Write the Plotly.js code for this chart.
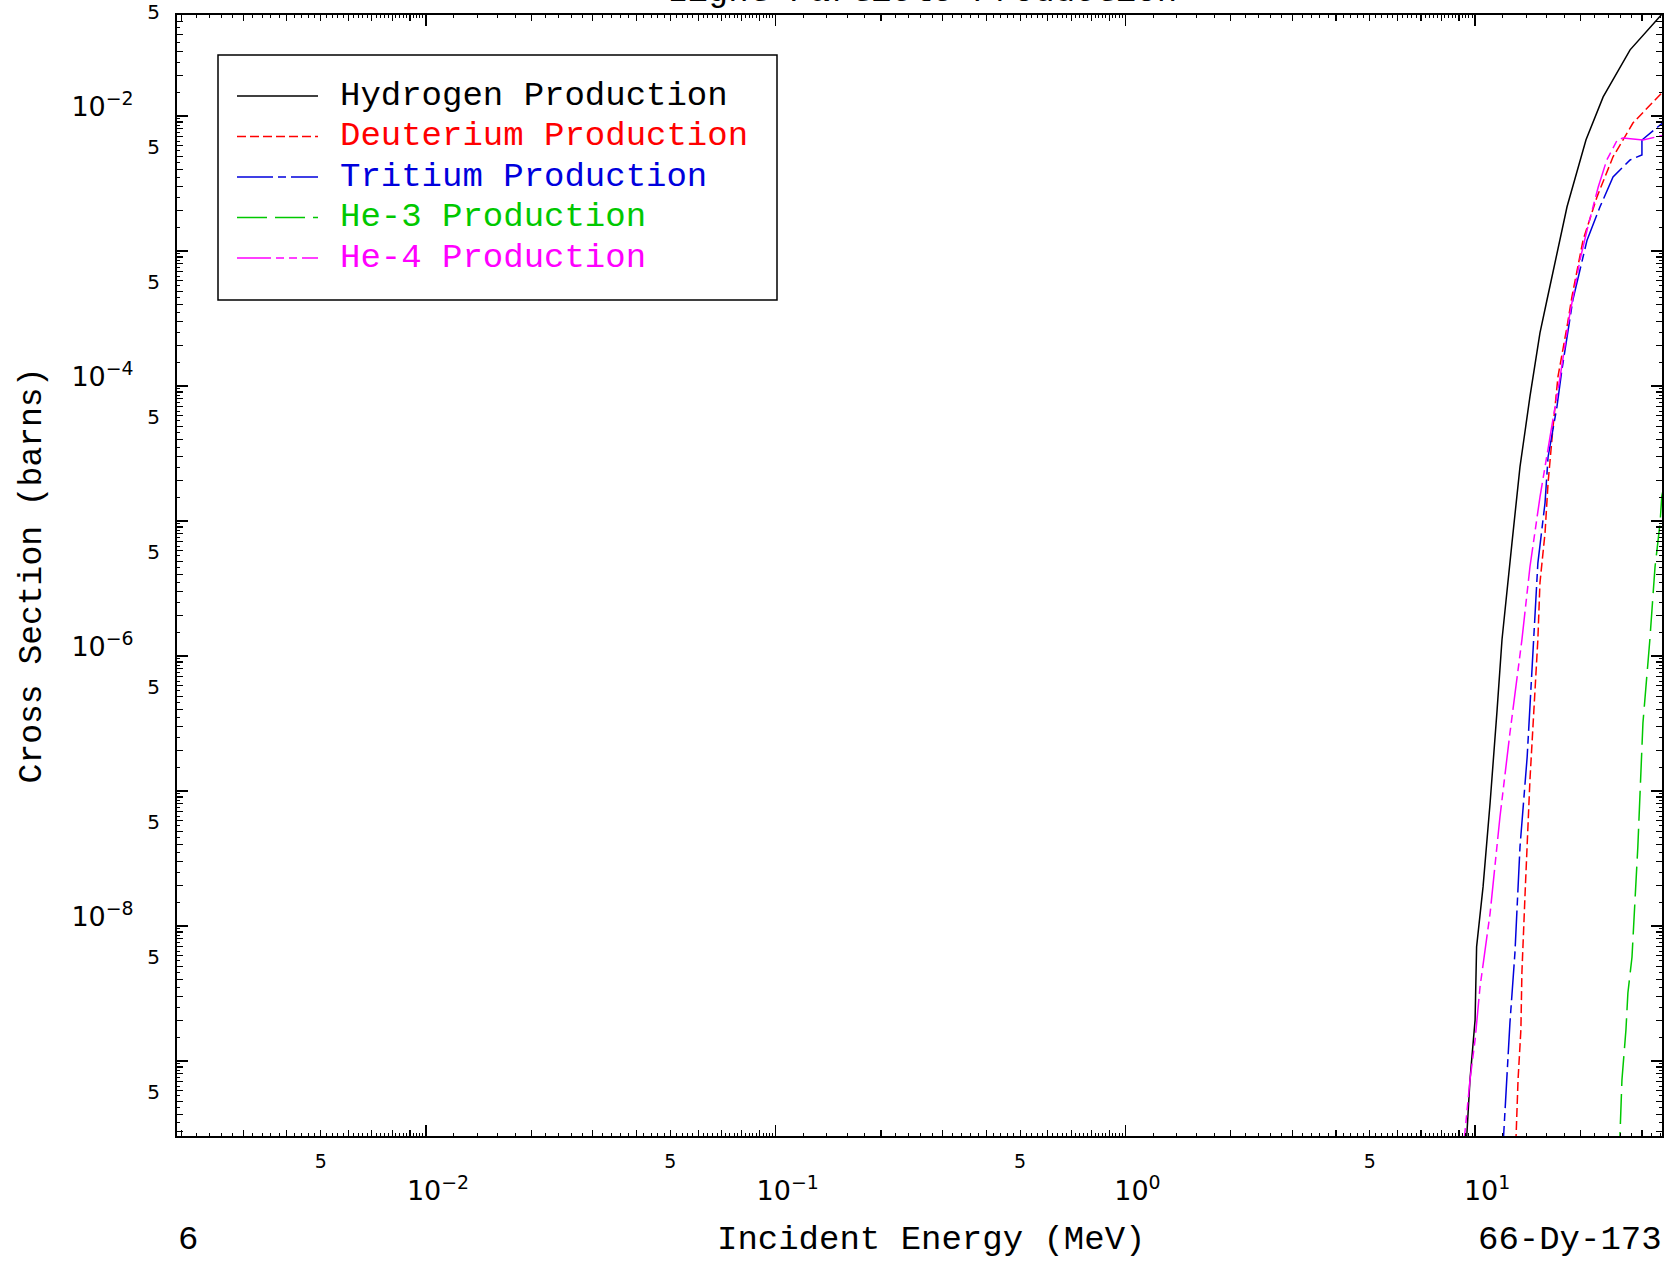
<!DOCTYPE html>
<html>
<head>
<meta charset="utf-8">
<script src="https://cdn.plot.ly/plotly-3.0.1.min.js"></script>
<style>html,body{margin:0;padding:0;background:#ffffff;overflow:hidden}</style>
</head>
<body>
<div id="chart" style="width:1673px;height:1261px"></div>
<script>
// ---------------- data (energy in MeV, cross section in barns) ----------------
const seriesNames = ["Hydrogen Production", "Deuterium Production", "Tritium Production", "He-3 Production", "He-4 Production"];

const hydrogenE  = [9.35, 9.67, 10.0, 10.1, 10.54, 11.04, 11.56, 11.94, 12.75, 13.44, 14.35, 15.33, 16.06, 17.26, 18.32, 20.76, 23.24, 27.75, 34.0, 35.0];
const hydrogenXS = [1.58e-10, 7.23e-10, 2.01e-9, 6.98e-9, 1.95e-8, 8.15e-8, 3.98e-7, 1.32e-6, 6.87e-6, 2.51e-5, 8.30e-5, 2.47e-4, 4.34e-4, 1.02e-3, 2.12e-3, 6.64e-3, 1.38e-2, 3.08e-2, 5.55e-2, 6.3e-2];

const deuteriumE  = [13.0, 13.27, 13.52, 13.61, 13.90, 14.35, 15.12, 15.33, 15.85, 16.17, 16.71, 17.26, 18.32, 18.92, 20.36, 22.32, 24.8, 28.3, 34.2, 35.0];
const deuteriumXS = [1.58e-10, 7.23e-10, 1.70e-9, 4.49e-9, 1.75e-8, 1.20e-7, 1.32e-6, 3.48e-6, 8.15e-6, 1.91e-5, 4.97e-5, 1.17e-4, 2.74e-4, 4.56e-4, 1.20e-3, 2.51e-3, 4.97e-3, 8.87e-3, 1.48e-2, 1.56e-2];

const tritiumE  = [11.95, 12.34, 12.58, 13.0, 13.44, 14.09, 14.66, 15.12, 15.85, 16.17, 17.14, 17.71, 19.04, 20.9, 22.75, 24.8, 27.75, 30.0, 30.0, 34.2, 35.0];
const tritiumXS = [1.78e-10, 7.21e-10, 1.91e-9, 6.30e-9, 3.84e-8, 1.78e-7, 1.31e-6, 4.86e-6, 1.36e-5, 2.97e-5, 6.97e-5, 1.31e-4, 4.33e-4, 1.20e-3, 2.11e-3, 3.52e-3, 4.71e-3, 5.13e-3, 6.62e-3, 8.85e-3, 9.2e-3];

const he3E  = [25.8, 26.3, 27.0, 27.35, 28.1, 29.2, 30.2, 31.6, 32.7, 33.8, 34.2, 35.0];
const he3XS = [1.78e-10, 7.21e-10, 1.69e-9, 3.18e-9, 5.87e-9, 3.84e-8, 3.18e-7, 1.31e-6, 4.55e-6, 9.64e-6, 1.53e-5, 2.0e-5];

const he4E  = [9.18, 9.67, 10.0, 10.33, 11.04, 11.78, 12.58, 13.61, 14.35, 15.33, 16.38, 17.5, 18.6, 19.95, 21.0, 22.5, 23.8, 25.5, 26.5, 30.2, 33.8, 35.0];
const he4XS = [1.78e-10, 7.21e-10, 1.43e-9, 3.52e-9, 1.24e-8, 6.40e-8, 2.68e-7, 1.31e-6, 4.55e-6, 1.50e-5, 4.18e-5, 1.16e-4, 3.24e-4, 8.55e-4, 1.50e-3, 2.97e-3, 4.71e-3, 6.62e-3, 6.86e-3, 6.62e-3, 7.08e-3, 7.15e-3];

const xDecadeLabels = ["10<sup>\u22122</sup>", "10<sup>\u22121</sup>", "10<sup>0</sup>", "10<sup>1</sup>"];
const xDecadeValues = [1e-2, 1e-1, 1e0, 1e1];
const yDecadeValues = [1e-2, 1e-3, 1e-4, 1e-5, 1e-6, 1e-7, 1e-8, 1e-9];
const yDecadeLabels = ["10<sup>\u22122</sup>", "", "10<sup>\u22124</sup>", "", "10<sup>\u22126</sup>", "", "10<sup>\u22128</sup>", ""];

const titleText = "Light Particle Production";
const xTitle = "Incident Energy (MeV)";
const yTitle = "Cross Section (barns)";
const footLeft = "6";
const footRight = "66-Dy-173";

// ---------------- styles ----------------
const colors = ["#000000", "#ff0000", "#0000dd", "#00c800", "#ff00ff"];
const dashes = ["solid", "9px,4px", "36px,5px,8px,5px", "30px,8px", "34px,5px,8px,5px,8px,5px"];
const monoFont = "Liberation Mono, Courier New, monospace";
const tickFont = "DejaVu Sans, Arial, sans-serif";

// ---------------- tick helpers ----------------
function mantissaTicks(d0, d1, step, from, to) {
  const out = [];
  for (let d = d0; d <= d1; d++) {
    const n = Math.round((to - from) / step);
    for (let i = 0; i <= n; i++) {
      const m = from + i * step;
      out.push(parseFloat((m * Math.pow(10, d)).toPrecision(6)));
    }
  }
  return out;
}
const xFine = mantissaTicks(-3, 1, 0.2, 1.2, 9.8);
const xInt  = mantissaTicks(-3, 1, 1, 2, 9);
const yHalf = mantissaTicks(-10, -2, 0.5, 1.5, 9.5);
const yInt  = mantissaTicks(-10, -2, 1, 2, 9);
const intText = v => (Math.abs(v / Math.pow(10, Math.floor(Math.log10(v) + 1e-9)) - 5) < 1e-6 ? "5" : "");

// ---------------- geometry ----------------
const W = 1673, H = 1261;
const L = 177, R = 1662, T = 15, B = 1136;
const PX = p => (p - L) / (R - L);
const PY = p => 1 - (p - T) / (B - T);
const xRange = [-2.712, 1.5345];
const yRange = [-9.557, -1.2533];

const dataE = [hydrogenE, deuteriumE, tritiumE, he3E, he4E];
const dataXS = [hydrogenXS, deuteriumXS, tritiumXS, he3XS, he4XS];

const traces = seriesNames.map((name, i) => ({
  type: "scatter", mode: "lines", name: name,
  x: dataE[i], y: dataXS[i],
  line: {color: colors[i], width: 1.5, dash: dashes[i]},
  showlegend: false, hoverinfo: "skip"
}));
traces.push({type: "scatter", mode: "lines", x: [], y: [], xaxis: "x2", yaxis: "y2", showlegend: false, hoverinfo: "skip"});

// ---------------- legend (drawn manually) ----------------
const legRows = [96, 136.5, 177, 217.5, 258];
const shapes = [{
  type: "rect", xref: "paper", yref: "paper",
  x0: PX(218), x1: PX(777), y0: PY(300), y1: PY(55),
  line: {color: "#000", width: 1.5}, fillcolor: "#ffffff", layer: "above"
}];
const annotations = [];
seriesNames.forEach((name, i) => {
  shapes.push({type: "line", xref: "paper", yref: "paper",
    x0: PX(237), x1: PX(318), y0: PY(legRows[i]), y1: PY(legRows[i]),
    line: {color: colors[i], width: 1.5, dash: dashes[i]}, layer: "above"});
  annotations.push({xref: "paper", yref: "paper", x: PX(338), y: PY(legRows[i]),
    xanchor: "left", yanchor: "middle", text: name, showarrow: false,
    font: {family: monoFont, size: 34, color: colors[i]}});
});
annotations.push({xref: "paper", yref: "paper", x: 0.502, y: PY(-7.9), xanchor: "center", yanchor: "middle",
  text: titleText, showarrow: false, font: {family: monoFont, size: 34, color: "#000"}});
annotations.push({xref: "paper", yref: "paper", x: PX(931), y: PY(1240), xanchor: "center", yanchor: "middle",
  text: xTitle, showarrow: false, font: {family: monoFont, size: 34, color: "#000"}});
annotations.push({xref: "paper", yref: "paper", x: PX(176), y: PY(1240), xanchor: "left", yanchor: "middle",
  text: footLeft, showarrow: false, font: {family: monoFont, size: 34, color: "#000"}});
annotations.push({xref: "paper", yref: "paper", x: PX(1664), y: PY(1240), xanchor: "right", yanchor: "middle",
  text: footRight, showarrow: false, font: {family: monoFont, size: 34, color: "#000"}});

const baseAxis = {
  type: "log", showgrid: false, zeroline: false, ticks: "inside", tickcolor: "#000",
  fixedrange: true
};

const layout = {
  width: W, height: H,
  margin: {l: L, r: W - R, t: T, b: H - B, pad: 0},
  paper_bgcolor: "#ffffff", plot_bgcolor: "#ffffff",
  showlegend: false,
  xaxis: Object.assign({}, baseAxis, {
    range: xRange, showline: true, linecolor: "#000", linewidth: 2, mirror: "allticks",
    tickmode: "array", tickvals: xDecadeValues, ticktext: xDecadeLabels,
    ticklen: 11, tickwidth: 1.5,
    tickfont: {family: tickFont, size: 27, color: "#000"},
    ticklabelshift: 12, ticklabelstandoff: 30,
    minor: {tickmode: "array", tickvals: xFine, ticks: "inside", ticklen: 3, tickwidth: 1, tickcolor: "#000", showgrid: false}
  }),
  xaxis2: Object.assign({}, baseAxis, {
    overlaying: "x", anchor: "y", side: "bottom", range: xRange, showline: false, mirror: "ticks",
    tickmode: "array", tickvals: xInt, ticktext: xInt.map(intText),
    ticklen: 6, tickwidth: 1.2,
    tickfont: {family: tickFont, size: 19, color: "#000"},
    ticklabelstandoff: 12
  }),
  yaxis: Object.assign({}, baseAxis, {
    range: yRange, showline: true, linecolor: "#000", linewidth: 2, mirror: "allticks",
    tickmode: "array", tickvals: yDecadeValues, ticktext: yDecadeLabels,
    ticklen: 11, tickwidth: 1.5,
    tickfont: {family: tickFont, size: 27, color: "#000"},
    ticklabelshift: -9, ticklabelstandoff: 36,
    minor: {tickmode: "array", tickvals: yHalf, ticks: "inside", ticklen: 3, tickwidth: 1, tickcolor: "#000", showgrid: false},
    title: {text: yTitle, font: {family: monoFont, size: 33, color: "#000"}, standoff: 20}
  }),
  yaxis2: Object.assign({}, baseAxis, {
    overlaying: "y", anchor: "x", side: "left", range: yRange, showline: false, mirror: "ticks",
    tickmode: "array", tickvals: yInt, ticktext: yInt.map(intText),
    ticklen: 6, tickwidth: 1.2,
    tickfont: {family: tickFont, size: 20, color: "#000"},
    ticklabelshift: -9, ticklabelstandoff: 16
  }),
  shapes: shapes,
  annotations: annotations
};

Plotly.newPlot("chart", traces, layout, {displayModeBar: false, staticPlot: true});
</script>
</body>
</html>
